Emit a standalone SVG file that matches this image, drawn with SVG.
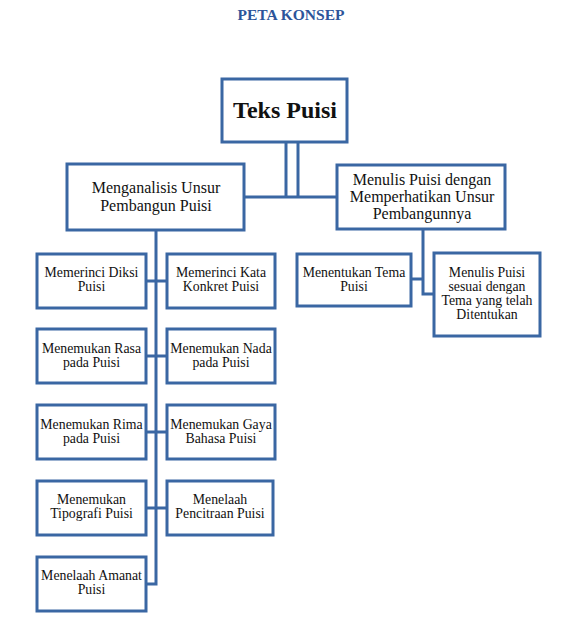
<svg xmlns="http://www.w3.org/2000/svg" width="565" height="639" viewBox="0 0 565 639">
<style>
.box{fill:#fff;stroke:#3a67a3;stroke-width:3}
.ln{fill:none;stroke:#3a67a3;stroke-width:3}
text{font-family:"Liberation Serif","Times New Roman",serif;fill:#111;text-anchor:middle}
.t{font-size:15.5px;font-weight:bold;fill:#2d559a}
.main{font-size:24px;font-weight:bold}
.mid{font-size:16px}
.leaf{font-size:13.8px}
</style>
<rect width="565" height="639" fill="#fff"/>
<text class="t" x="291" y="20">PETA KONSEP</text>
<g id="connectors">
<line class="ln" x1="286" y1="142" x2="286" y2="197"/>
<line class="ln" x1="298" y1="142" x2="298" y2="197"/>
<line class="ln" x1="244" y1="197" x2="337" y2="197"/>
<path class="ln" d="M156 230 V584 H146"/>
<line class="ln" x1="146" y1="281" x2="167" y2="281"/>
<line class="ln" x1="146" y1="356" x2="167" y2="356"/>
<line class="ln" x1="146" y1="432" x2="167" y2="432"/>
<line class="ln" x1="146" y1="508" x2="167" y2="508"/>
<path class="ln" d="M423 229 V294 H434"/>
<line class="ln" x1="411" y1="279" x2="423" y2="279"/>
</g>
<g id="teks-puisi"><rect class="box" x="222" y="79" width="125" height="63"/><text class="main" x="285" y="118">Teks Puisi</text></g>
<g id="menganalisis"><rect class="box" x="67" y="164" width="177" height="66"/><text class="mid" x="156" y="193">Menganalisis Unsur</text><text class="mid" x="156" y="211">Pembangun Puisi</text></g>
<g id="menulis"><rect class="box" x="337" y="165" width="168" height="64"/><text class="mid" x="422" y="185">Menulis Puisi dengan</text><text class="mid" x="422" y="202">Memperhatikan Unsur</text><text class="mid" x="422" y="219">Pembangunnya</text></g>
<g id="diksi"><rect class="box" x="37" y="254" width="109" height="54"/><text class="leaf" x="91.5" y="277">Memerinci Diksi</text><text class="leaf" x="91.5" y="291">Puisi</text></g>
<g id="kata-konkret"><rect class="box" x="167" y="254" width="108" height="54"/><text class="leaf" x="221" y="277">Memerinci Kata</text><text class="leaf" x="221" y="291">Konkret Puisi</text></g>
<g id="rasa"><rect class="box" x="37" y="329" width="109" height="54"/><text class="leaf" x="91.5" y="353">Menemukan Rasa</text><text class="leaf" x="91.5" y="367">pada Puisi</text></g>
<g id="nada"><rect class="box" x="167" y="329" width="108" height="54"/><text class="leaf" x="221" y="353">Menemukan Nada</text><text class="leaf" x="221" y="367">pada Puisi</text></g>
<g id="rima"><rect class="box" x="37" y="405" width="109" height="54"/><text class="leaf" x="91.5" y="429">Menemukan Rima</text><text class="leaf" x="91.5" y="443">pada Puisi</text></g>
<g id="gaya-bahasa"><rect class="box" x="167" y="405" width="108" height="54"/><text class="leaf" x="221" y="429">Menemukan Gaya</text><text class="leaf" x="221" y="443">Bahasa Puisi</text></g>
<g id="tipografi"><rect class="box" x="37" y="481" width="109" height="54"/><text class="leaf" x="91.5" y="504">Menemukan</text><text class="leaf" x="91.5" y="518">Tipografi Puisi</text></g>
<g id="pencitraan"><rect class="box" x="167" y="481" width="106" height="54"/><text class="leaf" x="220" y="504">Menelaah</text><text class="leaf" x="220" y="518">Pencitraan Puisi</text></g>
<g id="amanat"><rect class="box" x="37" y="557" width="109" height="54"/><text class="leaf" x="91.5" y="580">Menelaah Amanat</text><text class="leaf" x="91.5" y="594">Puisi</text></g>
<g id="tema"><rect class="box" x="297" y="254" width="114" height="52"/><text class="leaf" x="354" y="277">Menentukan Tema</text><text class="leaf" x="354" y="291">Puisi</text></g>
<g id="menulis-tema"><rect class="box" x="434" y="253" width="106" height="83"/><text class="leaf" x="487" y="277">Menulis Puisi</text><text class="leaf" x="487" y="291">sesuai dengan</text><text class="leaf" x="487" y="305">Tema yang telah</text><text class="leaf" x="487" y="319">Ditentukan</text></g>
</svg>
